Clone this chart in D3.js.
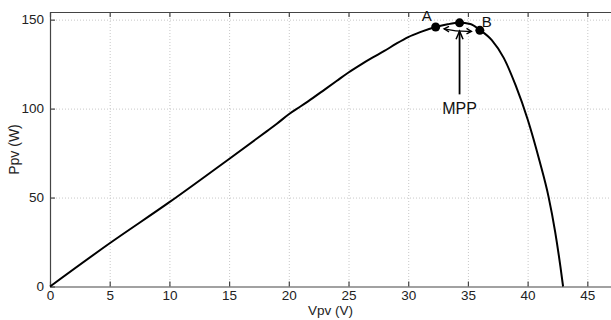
<!DOCTYPE html>
<html><head><meta charset="utf-8">
<script src="https://cdn.jsdelivr.net/npm/d3@7"></script>
<style>body{margin:0;background:#fff}svg{display:block}</style>
</head><body>
<svg id="c" width="611" height="320"></svg>
<script>
const vpv = [0,5,10,15,18.2,19,20,21,22,23,24,25,26,27,28,29,30,31,32.3,33.3,34.3,35.2,36,37,38,39,40,41,41.75,42.3,42.75,42.97];
const ppv = [0,24.3,47.4,71.7,87.5,91.5,96.8,101.3,105.9,110.7,115.5,120.3,124.6,128.6,132.4,136.5,140.2,143.0,145.9,147.4,148.2,147.6,144.2,138.5,128.5,113,94,70.5,50.5,31,11,0];
const xTicks = [0,5,10,15,20,25,30,35,40,45];
const yTicks = [0,50,100,150];
const markV = [32.3,34.3,36.0];
const markP = [145.9,148.2,144.0];
const markLabels = ["A","","B"];
const xTitle = "Vpv (V)", yTitle = "Ppv (W)", annot = "MPP";

const svg = d3.select("#c");
const L=50, R=611.2, T=12, B=286.5;
const x = d3.scaleLinear().domain([0,47]).range([L,R]);
const y = d3.scaleLinear().domain([0,154.3]).range([B,T]);
const font = "Liberation Sans, Arial, Helvetica, sans-serif";

// grid
const g = svg.append("g");
g.selectAll(".gx").data(xTicks.filter(d=>d>0)).enter().append("line")
 .attr("x1",d=>x(d)+0.5).attr("x2",d=>x(d)+0.5).attr("y1",T).attr("y2",B)
 .attr("stroke","#c8c8c8").attr("stroke-dasharray","1,2");
g.selectAll(".gy").data(yTicks.filter(d=>d>0)).enter().append("line")
 .attr("y1",d=>y(d)+0.5).attr("y2",d=>y(d)+0.5).attr("x1",L).attr("x2",R)
 .attr("stroke","#c8c8c8").attr("stroke-dasharray","1,2");

// axes
const xa = svg.append("g").attr("transform",`translate(0,${B})`)
 .call(d3.axisBottom(x).tickValues(xTicks).tickSizeInner(-5).tickSizeOuter(0).tickPadding(4));
const xt = svg.append("g").attr("transform",`translate(0,${T})`)
 .call(d3.axisTop(x).tickValues(xTicks).tickSizeInner(-5).tickSizeOuter(0).tickFormat(""));
const ya = svg.append("g").attr("transform",`translate(${L},0)`)
 .call(d3.axisLeft(y).tickValues(yTicks).tickSizeInner(-5).tickSizeOuter(0).tickPadding(6));
[xa,xt,ya].forEach(a=>{
  a.selectAll("path,line").attr("stroke","#444").attr("stroke-width",1.2);
  a.selectAll("text").attr("font-family",font).attr("font-size",13.5).attr("fill","#222");
});
xa.selectAll("text").attr("dy","0.68em");

// curve
svg.append("path").datum(vpv.map((v,i)=>[v,ppv[i]]))
 .attr("d",d3.line().x(d=>x(d[0])).y(d=>y(d[1])).curve(d3.curveMonotoneX))
 .attr("fill","none").attr("stroke","#000").attr("stroke-width",2);

// markers
svg.selectAll(".m").data(markV).enter().append("circle")
 .attr("cx",d=>x(d)).attr("cy",(d,i)=>y(markP[i])).attr("r",4.5).attr("fill","#000");
svg.append("text").attr("x",x(markV[0])-9).attr("y",y(markP[0])-6).text(markLabels[0])
 .attr("font-family",font).attr("font-size",15).attr("text-anchor","middle").attr("fill","#111");
svg.append("text").attr("x",x(markV[2])+7).attr("y",y(markP[2])-3).text(markLabels[2])
 .attr("font-family",font).attr("font-size",15).attr("text-anchor","middle").attr("fill","#111");

// MPP annotation arrow
const ax = x(markV[1]);
svg.append("line").attr("x1",ax).attr("x2",ax).attr("y1",y(108)).attr("y2",y(143.5))
 .attr("stroke","#000").attr("stroke-width",1.8);
svg.append("path").attr("d",`M${ax-3.5},${y(139)} L${ax},${y(143.5)} L${ax+3.5},${y(139)}`)
 .attr("fill","none").attr("stroke","#000").attr("stroke-width",1.5);
// double arrow between A and B
const a1=[x(33.0),y(144.8)], a2=[x(35.3),y(143.4)];
svg.append("path").attr("d",`M${a1[0]},${a1[1]} Q${(a1[0]+a2[0])/2},${a1[1]+3} ${a2[0]},${a2[1]}`)
 .attr("fill","none").attr("stroke","#000").attr("stroke-width",1.3);
svg.append("path").attr("d",`M${a1[0]+5},${a1[1]-2.5} L${a1[0]},${a1[1]} L${a1[0]+5},${a1[1]+3}`)
 .attr("fill","none").attr("stroke","#000").attr("stroke-width",1.3);
svg.append("path").attr("d",`M${a2[0]-5},${a2[1]-3} L${a2[0]},${a2[1]} L${a2[0]-5},${a2[1]+2.5}`)
 .attr("fill","none").attr("stroke","#000").attr("stroke-width",1.3);
svg.append("text").attr("x",ax).attr("y",y(97)).text(annot)
 .attr("font-family",font).attr("font-size",16).attr("text-anchor","middle").attr("fill","#111");

// titles
svg.append("text").attr("x",x(23.5)).attr("y",315).text(xTitle)
 .attr("font-family",font).attr("font-size",13.5).attr("text-anchor","middle").attr("fill","#222");
svg.append("text").attr("transform",`translate(19,${y(77)}) rotate(-90)`).text(yTitle)
 .attr("font-family",font).attr("font-size",14).attr("text-anchor","middle").attr("fill","#222");
</script>
</body></html>
